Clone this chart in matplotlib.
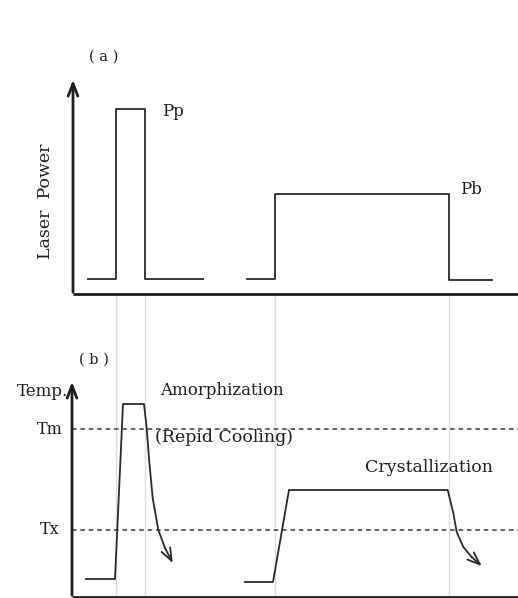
import matplotlib
matplotlib.use("Agg")
import matplotlib.pyplot as plt

# ---- waveform data -------------------------------------------------------
# (a) laser power pulses: time points and power levels
pulse_amorph_t = [15, 43, 43, 72, 72, 130]
pulse_amorph_p = [1.5, 1.5, 18.5, 18.5, 1.5, 1.5]
pulse_cryst_t = [174, 202, 202, 376, 376, 419]
pulse_cryst_p = [1.5, 1.5, 10.0, 10.0, 1.4, 1.4]
power_labels = ["Pp", "Pb"]

# (b) temperature response (heating, hold, then cooling tail)
temp_amorph_t = [14, 43, 51, 72, 74.7, 77.3, 80.7, 86.3, 93, 100.7]
temp_amorph_T = [1.8, 1.8, 19.3, 19.3, 16.9, 13.5, 9.9, 6.7, 4.9, 3.4]
temp_cryst_t = [173, 201, 217, 375.7, 381.3, 384.7, 391.3, 399.7, 409.7]
temp_cryst_T = [1.5, 1.5, 10.7, 10.7, 8.4, 6.5, 5.0, 4.0, 3.1]
T_melt = 16.8
T_cryst = 6.7
temp_levels = ["Tm", "Tx"]

# pulse edges carried down as guide lines
edge_times = [43, 72, 202, 376]

W, H = 518, 598
fig = plt.figure(figsize=(W / 100, H / 100), dpi=100)
fig.patch.set_facecolor("white")

FONT = ["DejaVu Serif"]
ink = "#1e1e1e"
wave = "#2a2a2a"
HEAD = "->,head_length=0.9,head_width=0.35"


def px_axes(left, right, top, bottom):
    return fig.add_axes([left / W, 1 - bottom / H, (right - left) / W, (bottom - top) / H])


# ---- panel (a) -----------------------------------------------------------
ax_a = px_axes(73, 518, 77, 294)
ax_a.set_xlim(0, 445)
ax_a.set_ylim(0, 21.7)
ax_a.axis("off")

for t in edge_times:
    ax_a.axvline(t, ymin=-1.40, ymax=0, color="#dcdcdc", lw=1.0, clip_on=False, zorder=0)

ax_a.annotate("", xy=(0, 21.7), xytext=(0, -0.1),
              arrowprops=dict(arrowstyle=HEAD, lw=2.0, color=ink),
              annotation_clip=False)
ax_a.plot([0, 445], [0, 0], color=ink, lw=2.0, clip_on=False, solid_capstyle="butt")

ax_a.plot(pulse_amorph_t, pulse_amorph_p, color=wave, lw=1.3, clip_on=False)
ax_a.plot(pulse_cryst_t, pulse_cryst_p, color=wave, lw=1.3, clip_on=False)

ax_a.text(89, 18.3, power_labels[0], ha="left", va="center", fontsize=12, family=FONT, color=ink)
ax_a.text(387, 10.5, power_labels[1], ha="left", va="center", fontsize=12, family=FONT, color=ink)
ax_a.text(31, 23.7, "( a )", ha="center", va="center", fontsize=10.5, family=FONT, color=ink)
ax_a.text(-28, 9.3, "Laser  Power", rotation=90, ha="center", va="center",
          fontsize=12.5, family=FONT, color=ink)

# ---- panel (b) -----------------------------------------------------------
ax_b = px_axes(72, 518, 379, 597)
ax_b.set_xlim(0, 446)
ax_b.set_ylim(0, 21.8)
ax_b.axis("off")

ax_b.annotate("", xy=(0, 21.8), xytext=(0, -0.1),
              arrowprops=dict(arrowstyle=HEAD, lw=2.0, color=ink),
              annotation_clip=False)
ax_b.plot([0, 446], [0, 0], color=ink, lw=2.0, clip_on=False, solid_capstyle="butt")

for lvl in (T_melt, T_cryst):
    ax_b.plot([0, 446], [lvl, lvl], color="#3a3a3a", lw=1.1,
              linestyle=(0, (3.0, 2.5)), clip_on=False)

# temperature traces, last segment drawn as an arrow
for ts, Ts in ((temp_amorph_t, temp_amorph_T), (temp_cryst_t, temp_cryst_T)):
    ax_b.plot(ts[:-1], Ts[:-1], color=wave, lw=1.3, clip_on=False, solid_joinstyle="round")
    ax_b.annotate("", xy=(ts[-1], Ts[-1]), xytext=(ts[-2], Ts[-2]),
                  arrowprops=dict(arrowstyle=HEAD, lw=1.3, color=wave, shrinkA=0, shrinkB=0),
                  annotation_clip=False)

ax_b.text(-22, T_melt, temp_levels[0], ha="center", va="center", fontsize=11.5, family=FONT, color=ink)
ax_b.text(-22, T_cryst, temp_levels[1], ha="center", va="center", fontsize=11.5, family=FONT, color=ink)
ax_b.text(-4, 20.5, "Temp.", ha="right", va="center", fontsize=12, family=FONT, color=ink)
ax_b.text(22, 23.7, "( b )", ha="center", va="center", fontsize=10.5, family=FONT, color=ink)
ax_b.text(88, 20.7, "Amorphization", ha="left", va="center", fontsize=12, family=FONT, color=ink)
ax_b.text(83, 16.0, "(Repid Cooling)", ha="left", va="center", fontsize=12.5, family=FONT, color=ink)
ax_b.text(293, 13.0, "Crystallization", ha="left", va="center", fontsize=12.5, family=FONT, color=ink)

fig.savefig("out.png", dpi=100, facecolor="white")
